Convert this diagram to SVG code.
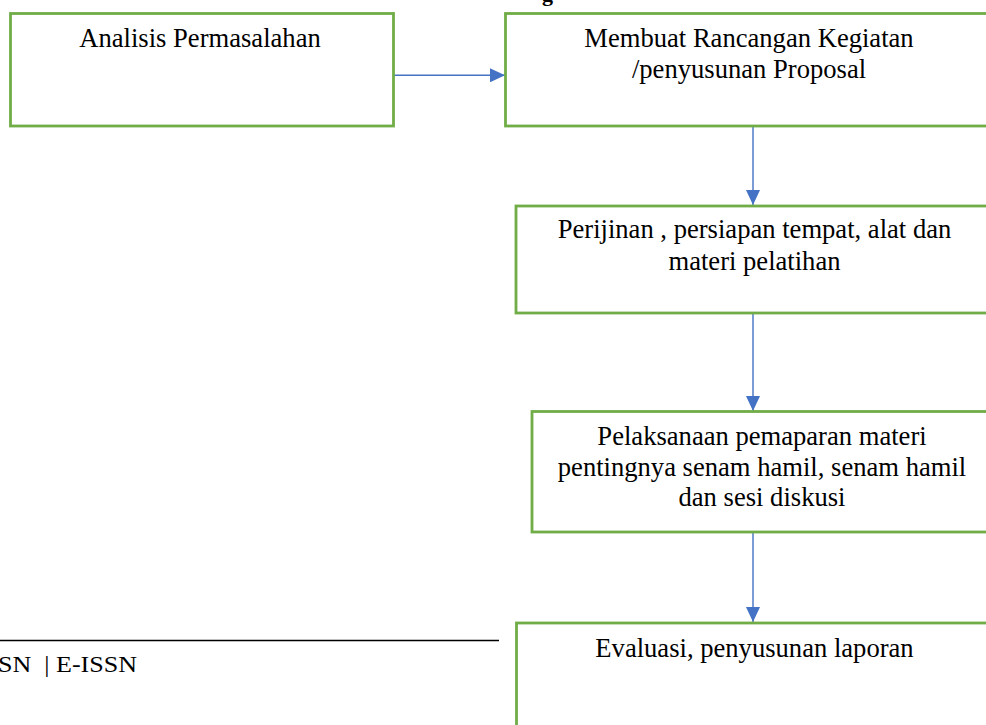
<svg xmlns="http://www.w3.org/2000/svg" width="986" height="725" viewBox="0 0 986 725">
<style>
.box{fill:#fff;stroke:#70AD47;stroke-width:2.8}
.t{font-family:"Liberation Serif","Times New Roman",serif;font-size:26.6px;fill:#000;text-anchor:middle}
.c{stroke:#4472C4;stroke-width:1.4;fill:none}
.h{fill:#4472C4}
</style>
<defs>
<marker id="ah" viewBox="0 0 15 14" refX="15" refY="7" markerWidth="15" markerHeight="14" markerUnits="userSpaceOnUse" orient="auto">
<path d="M0,0 L15,7 L0,14 Z" class="h"/>
</marker>
</defs>
<rect width="986" height="725" fill="#fff"/>
<text x="542" y="0.5" style="font-family:'Liberation Serif',serif;font-size:22px;font-weight:bold">g</text>
<g id="footer">
<line x1="0" y1="640.5" x2="499" y2="640.5" stroke="#000" stroke-width="1.6"/>
<text x="-2" y="671.5" fill="#000" style="font-family:'Liberation Serif',serif;font-size:24px" textLength="139" lengthAdjust="spacingAndGlyphs" xml:space="preserve">SN  | E-ISSN</text>
</g>
<g id="connectors">
<line class="c" x1="394" y1="75.3" x2="505" y2="75.3" marker-end="url(#ah)"/>
<line class="c" x1="753" y1="127" x2="753" y2="205" marker-end="url(#ah)"/>
<line class="c" x1="753" y1="314" x2="753" y2="411" marker-end="url(#ah)"/>
<line class="c" x1="753" y1="533" x2="753" y2="622" marker-end="url(#ah)"/>
</g>
<g id="n1">
<rect class="box" x="10.5" y="13.5" width="383" height="112.5"/>
<text class="t" x="200" y="46.7">Analisis Permasalahan</text>
</g>
<g id="n2">
<rect class="box" x="505.5" y="13.5" width="488" height="112.5"/>
<text class="t" x="749" y="46.7">Membuat Rancangan Kegiatan</text>
<text class="t" x="749" y="77.7">/penyusunan Proposal</text>
</g>
<g id="n3">
<rect class="box" x="516" y="206" width="478" height="107"/>
<text class="t" x="754.5" y="238.3">Perijinan , persiapan tempat, alat dan</text>
<text class="t" x="754.5" y="270">materi pelatihan</text>
</g>
<g id="n4">
<rect class="box" x="532" y="411.5" width="461" height="120.5"/>
<text class="t" x="762" y="445">Pelaksanaan pemaparan materi</text>
<text class="t" x="762" y="476">pentingnya senam hamil, senam hamil</text>
<text class="t" x="762" y="506">dan sesi diskusi</text>
</g>
<g id="n5">
<rect class="box" x="516.5" y="623" width="477" height="140"/>
<text class="t" x="754.5" y="656.7">Evaluasi, penyusunan laporan</text>
</g>
</svg>
